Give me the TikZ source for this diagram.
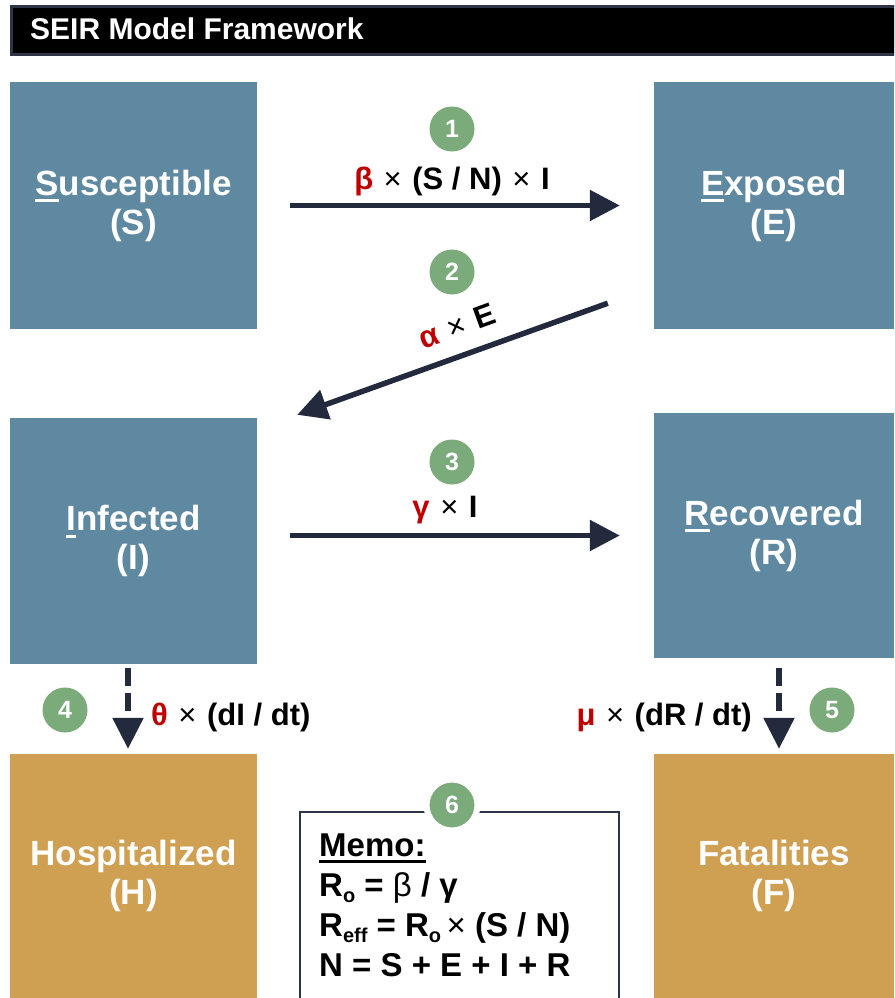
\documentclass[tikz,border=0pt]{standalone}
\usepackage{fontspec}
\setmainfont{Liberation Sans}
\usetikzlibrary{arrows.meta,calc}
\definecolor{sblue}{HTML}{5F88A1}
\definecolor{sgold}{HTML}{CF9F52}
\definecolor{sgreen}{HTML}{7BAA7B}
\definecolor{snavy}{HTML}{232A3E}
\definecolor{sred}{HTML}{C00000}
\definecolor{sframe}{HTML}{2F3446}
\newcommand\ulfirst[1]{\sbox0{#1}\rlap{\rule[-7pt]{\wd0}{3pt}}\usebox0}
\newcommand\gk[1]{\textcolor{sred}{#1}}
\newcommand\tms{\hspace{0.34em}{\mdseries ×}\hspace{0.34em}}
\newcommand\sbs[1]{\raisebox{-6pt}{\fontsize{20}{20}\selectfont #1}}
\tikzset{
  box/.style={rectangle, inner sep=0pt, text=white, align=center,
    font=\fontsize{35}{39}\selectfont\bfseries},
  bluebox/.style={box, fill=sblue},
  goldbox/.style={box, fill=sgold},
  num/.style={circle, fill=sgreen, minimum size=45pt, inner sep=0pt, text=white,
    font=\fontsize{25}{25}\selectfont\bfseries},
  flow/.style={draw=snavy, line width=5.5pt, -{Triangle[length=30pt,width=30pt]}},
  dflow/.style={draw=snavy, line width=5.5pt, dash pattern=on 18pt off 7pt,
    -{Triangle[length=31pt,width=30pt]}},
  lbl/.style={inner sep=0pt, font=\fontsize{31}{34}\selectfont\bfseries},
  memoline/.style={anchor=base west, inner sep=0pt, font=\fontsize{33}{40}\selectfont\bfseries},
}
\begin{document}
\begin{tikzpicture}[x=1pt,y=-1pt]
\useasboundingbox (0,0) rectangle (894,998);
\clip (0,0) rectangle (894,998);
% title bar
\node[draw=sframe, fill=black, line width=3pt, minimum width=900pt, minimum height=48pt,
  inner sep=0pt, anchor=north west] (bar) at (10,5) {};
\node[anchor=base west, inner sep=0pt, text=white, font=\fontsize{30}{36}\selectfont\bfseries]
  (title) at (30,40) {SEIR Model Framework};
% boxes
\node[bluebox, minimum width=247pt, minimum height=247pt] (S) at (133.5,205.5)
  {\ulfirst{S}usceptible\\(S)};
\node[bluebox, minimum width=240pt, minimum height=247pt] (E) at (774,205.5)
  {\ulfirst{E}xposed\\(E)};
\node[bluebox, minimum width=247pt, minimum height=246pt] (I) at (133.5,541)
  {\ulfirst{I}nfected\\(I)};
\node[bluebox, minimum width=240pt, minimum height=245pt] (R) at (774,535.5)
  {\ulfirst{R}ecovered\\(R)};
\node[goldbox, minimum width=247pt, minimum height=244pt] (H) at (133.5,876)
  {Hospitalized\\(H)};
\node[goldbox, minimum width=240pt, minimum height=244pt] (F) at (774,876)
  {Fatalities\\(F)};
% arrows
\draw[flow] ($(S.east)+(33,0)$) -- ($(E.west)+(-34,0)$);
\draw[flow] ($(E.south west)+(-46,-26)$) -- ($(I.north east)+(40,-3)$);
\draw[flow] ($(I.east |- R.west)+(33,0)$) -- ($(R.west)+(-34,0)$);
\draw[dflow] ($(I.south)+(-5.5,4)$) -- ($(H.north)+(-5.5,-5)$);
\draw[dflow] ($(R.south)+(5,10)$) -- ($(F.north)+(5,-5)$);
% labels
\node[lbl, anchor=base] (l1) at (452,189) {\gk{β}\tms(S / N)\tms I};
\node[lbl, rotate=20] (l2) at (457,326) {\gk{α}\tms E};
\node[lbl, anchor=base] (l3) at (445,517) {\gk{γ}\tms I};
\node[lbl, anchor=base west] (l4) at (151,725) {\gk{θ}\tms(dI / dt)};
\node[lbl, anchor=base east] (l5) at (752,725) {\gk{μ}\tms(dR / dt)};
% memo
\draw[draw=sframe, line width=2pt, fill=white] (300,1010) -- (300,812) -- (619,812) -- (619,1010);
\node[memoline] (m1) at (319,856) {\sbox0{Memo:}\rlap{\rule[-7pt]{\wd0}{3pt}}\usebox0};
\node[memoline] (m2) at (319,896) {R\sbs{o} = {\mdseries β} / γ};
\node[memoline] (m3) at (319,936) {R\sbs{eff} = R\sbs{o}\,{\mdseries ×} (S / N)};
\node[memoline] (m4) at (319,976) {N = S + E + I + R};
% numbered circles
\node[num] (n1) at (452,129) {1};
\node[num] (n2) at (452,272) {2};
\node[num] (n3) at (452,462) {3};
\node[num] (n4) at (65,710) {4};
\node[num] (n5) at (832,710) {5};
\node[num, draw=white, line width=6pt, minimum size=51pt] (n6) at (452,805) {6};
\end{tikzpicture}
\end{document}
